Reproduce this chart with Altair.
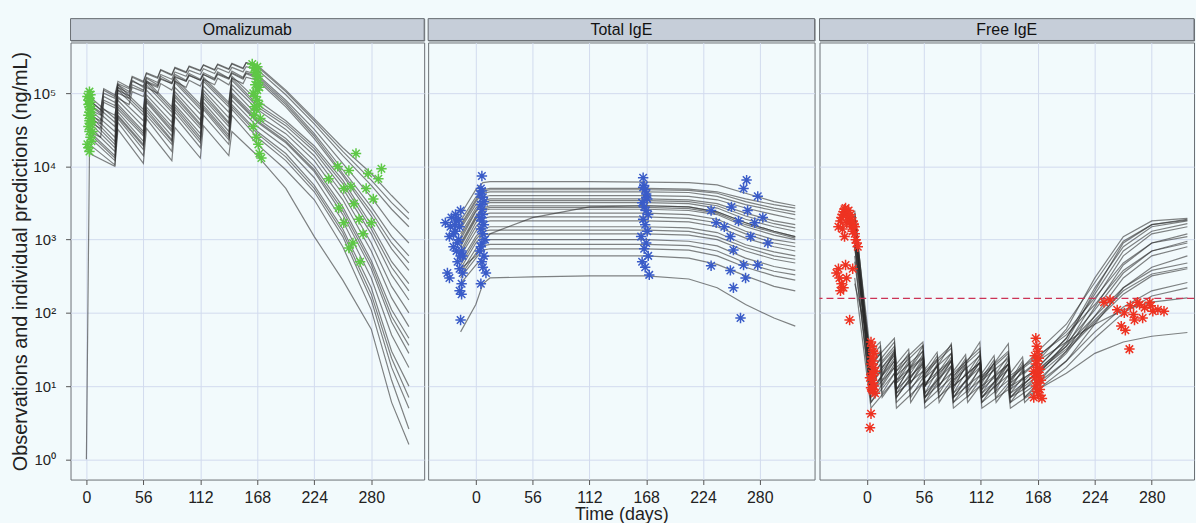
import altair as alt
import pandas as pd

TICKS_X = [0, 56, 112, 168, 224, 280]
TICKS_Y = [1, 10, 100, 1000, 10000, 100000]
PANELS = ["Omalizumab", "Total IgE", "Free IgE"]

# ---------------- Omalizumab: individual predictions (None = no prediction at that time) ----------------
omal_t_q2w = [0, 3, 14, 17, 28, 31, 42, 45, 56, 59, 70, 73, 84, 87, 98, 101, 112, 115,
              126, 129, 140, 143, 154, 157, 168, 196, 224, 252, 280, 300, 317]
omal_q2w = [
    [None, 6.0e4, 5.0e4, 1.0e5, 8.5e4, 1.35e5, 1.15e5, 1.65e5, 1.4e5, 1.85e5, 1.6e5, 2.05e5, 1.75e5, 2.2e5, 1.9e5, 2.3e5, 2.0e5, 2.4e5, 2.05e5, 2.45e5, 2.1e5, 2.5e5, 2.15e5, 2.6e5, 2.4e5, 1.1e5, 4.5e4, 1.8e4, 8e3, 4e3, 2.3e3],
    [None, 7.0e4, 5.5e4, 1.15e5, 9.5e4, 1.45e5, 1.2e5, 1.7e5, 1.45e5, 1.9e5, 1.65e5, 2.1e5, 1.8e5, 2.25e5, 1.95e5, 2.35e5, 2.05e5, 2.45e5, 2.1e5, 2.5e5, 2.15e5, 2.55e5, 2.2e5, 2.6e5, 2.3e5, 1.05e5, 4.2e4, 1.6e4, 6.5e3, 3.2e3, 1.9e3],
    [None, 5.0e4, 4.2e4, 9.0e4, 7.5e4, 1.2e5, 1.0e5, 1.45e5, 1.25e5, 1.65e5, 1.4e5, 1.8e5, 1.55e5, 1.95e5, 1.7e5, 2.05e5, 1.8e5, 2.15e5, 1.85e5, 2.2e5, 1.9e5, 2.25e5, 1.95e5, 2.3e5, 2.1e5, 9.5e4, 3.8e4, 1.4e4, 5.5e3, 2.6e3, 1.5e3],
    [None, 8.0e4, 6.0e4, 1.1e5, 9.0e4, 1.3e5, 1.05e5, 1.5e5, 1.2e5, 1.6e5, 1.3e5, 1.7e5, 1.4e5, 1.8e5, 1.5e5, 1.85e5, 1.55e5, 1.9e5, 1.6e5, 1.95e5, 1.6e5, 2.0e5, 1.65e5, 2.0e5, 1.8e5, 8e4, 3.2e4, 1.1e4, 3.8e3, 1.6e3, 900],
    [None, 4.0e4, 3.3e4, 7.5e4, 6.3e4, 1.0e5, 8.5e4, 1.2e5, 1.05e5, 1.4e5, 1.2e5, 1.55e5, 1.35e5, 1.65e5, 1.45e5, 1.75e5, 1.5e5, 1.8e5, 1.55e5, 1.85e5, 1.6e5, 1.9e5, 1.6e5, 1.9e5, 1.7e5, 7.5e4, 2.8e4, 9e3, 2.8e3, 1.1e3, 600],
    [None, 4.5e4, 3.8e4, 8.0e4, 6.8e4, 1.1e5, 9.2e4, 1.3e5, 1.1e5, 1.45e5, 1.25e5, 1.6e5, 1.35e5, 1.7e5, 1.45e5, 1.75e5, 1.5e5, 1.8e5, 1.5e5, 1.8e5, 1.55e5, 1.85e5, 1.55e5, 1.85e5, 1.6e5, 7e4, 2.6e4, 8e3, 2.4e3, 900, 480],
    [None, 3.0e4, 2.5e4, 6.0e4, 5.0e4, 8.5e4, 7.0e4, 1.05e5, 9.0e4, 1.2e5, 1.0e5, 1.35e5, 1.1e5, 1.45e5, 1.2e5, 1.5e5, 1.25e5, 1.55e5, 1.3e5, 1.6e5, 1.3e5, 1.6e5, 1.35e5, 1.65e5, 1.5e5, 6.5e4, 2.4e4, 7.5e3, 2.1e3, 750, 380],
]
omal_t_q4w = [0, 3, 28, 31, 56, 59, 84, 87, 112, 115, 140, 143, 168, 196, 224, 252, 280, 300, 317]
omal_q4w = [
    [None, 9e4, 4.5e4, 1.3e5, 6e4, 1.5e5, 6.5e4, 1.6e5, 7e4, 1.65e5, 7.5e4, 1.7e5, 8e4, 4.2e4, 1.9e4, 6.5e3, 1.6e3, 500, 250],
    [None, 8e4, 4e4, 1.2e5, 5.5e4, 1.4e5, 6e4, 1.5e5, 6.5e4, 1.55e5, 7e4, 1.6e5, 7e4, 3.9e4, 1.75e4, 5.8e3, 1.4e3, 420, 200],
    [None, 7e4, 3.5e4, 1.1e5, 5e4, 1.3e5, 5.5e4, 1.4e5, 6e4, 1.45e5, 6.5e4, 1.5e5, 6.5e4, 3.6e4, 1.6e4, 5e3, 1.2e3, 330, 150],
    [None, 6e4, 3e4, 9e4, 4.2e4, 1.1e5, 4.8e4, 1.2e5, 5.2e4, 1.25e5, 5.5e4, 1.3e5, 6e4, 3.2e4, 1.4e4, 4.2e3, 900, 230, 100],
    [None, 5.5e4, 2.5e4, 8e4, 3.5e4, 9.5e4, 4e4, 1.05e5, 4.3e4, 1.1e5, 4.6e4, 1.15e5, 5e4, 2.8e4, 1.2e4, 3.5e3, 700, 160, 65],
    [None, 5e4, 2.2e4, 7e4, 3e4, 8.5e4, 3.5e4, 9.5e4, 3.8e4, 1.0e5, 4e4, 1.0e5, 4.5e4, 2.4e4, 1.0e4, 2.8e3, 520, 110, 45],
    [None, 4.5e4, 2e4, 6.5e4, 2.8e4, 8e4, 3.2e4, 8.8e4, 3.6e4, 9.2e4, 3.8e4, 9.5e4, 4.2e4, 2.2e4, 9e3, 2.5e3, 460, 90, 36],
    [None, 4e4, 1.8e4, 6e4, 2.6e4, 7.5e4, 3e4, 8e4, 3.3e4, 8.5e4, 3.5e4, 9e4, 4e4, 2.1e4, 8.5e3, 2.2e3, 400, 75, 28],
    [None, 3.5e4, 1.6e4, 5.5e4, 2.2e4, 6.5e4, 2.6e4, 7e4, 2.8e4, 7.5e4, 3e4, 8e4, 3.5e4, 1.8e4, 7e3, 1.8e3, 300, 50, 18],
    [None, 3e4, 1.4e4, 5e4, 2e4, 6e4, 2.3e4, 6.5e4, 2.5e4, 6.8e4, 2.7e4, 7e4, 3e4, 1.5e4, 5.5e3, 1.4e3, 220, 30, 10],
    [None, 2.8e4, 1.3e4, 4.8e4, 1.9e4, 5.5e4, 2.2e4, 6e4, 2.3e4, 6.4e4, 2.5e4, 6.5e4, 2.8e4, 1.35e4, 5e3, 1.25e3, 180, 24, 7],
    [None, 2.5e4, 1.2e4, 4.5e4, 1.7e4, 5e4, 2e4, 5.5e4, 2.1e4, 6e4, 2.3e4, 6e4, 2.5e4, 1.2e4, 4.5e3, 1.1e3, 150, 18, 5],
    [None, 2e4, 1.05e4, 4e4, 1.4e4, 4.5e4, 1.6e4, 4.8e4, 1.8e4, 5e4, 2e4, 5e4, 2e4, 9e3, 3.5e3, 800, 110, 12, 2.6],
    [1, 1.5e4, 1.0e4, 3.2e4, 1.1e4, 3.3e4, 1.2e4, 3.4e4, 1.3e4, 3.6e4, 1.4e4, 3.0e4, 1.4e4, 5e3, 1.1e3, 280, 60, 6, 1.6],
]
# Omalizumab observations
omal_obs_day = [1, 2, 2, 3, 3, 3, 4, 4, 4, 5, 5, 2, 3, 4, 1, 2, 3, 5, 6, 3, 4, 2, 3, 4, 5,
                163, 165, 166, 167, 168, 169, 170, 164, 166, 168, 170, 167, 165, 169, 168, 166, 171, 164, 167, 169, 170, 172, 168, 165,
                247, 258, 265, 277, 287, 253, 263, 268, 253, 272, 280, 258, 269, 282, 248, 238, 290, 275, 262, 260]
omal_obs_val = [9e4, 8e4, 7e4, 1.05e5, 6.5e4, 5.5e4, 7.5e4, 6e4, 4.5e4, 5e4, 4e4, 3.5e4, 3e4, 2.5e4, 2e4, 1.8e4, 1.6e4, 2.2e4, 3e4, 8.5e4, 9.5e4, 5e4, 4.2e4, 3.8e4, 6e4,
                2.5e5, 2.2e5, 1.9e5, 2.0e5, 1.6e5, 1.4e5, 1.2e5, 1.0e5, 9e4, 8e4, 7e4, 6e4, 5e4, 1.7e5, 2.3e5, 1.3e5, 4.5e4, 3.5e4, 2.5e4, 2e4, 1.5e4, 1.3e4, 1.1e5, 6.5e4,
                1e4, 8.8e3, 1.5e4, 8e3, 6.8e3, 5e3, 3.1e3, 1.9e3, 1.7e3, 1.2e3, 1.7e3, 770, 500, 3.6e3, 2.7e3, 6.8e3, 9.3e3, 5e3, 900, 5.3e3]

# ---------------- Total IgE ----------------
tige_t = [-15, 0, 7, 14, 56, 112, 168, 210, 238, 266, 294, 315]
tige_curves = [
    [2200, 4800, 6000, 6200, 6200, 6200, 6100, 6000, 5600, 4300, 3300, 2900],
    [1800, 3800, 4800, 5000, 5000, 5000, 5000, 4900, 4500, 3600, 3000, 2700],
    [1600, 3500, 4600, 4800, 4800, 4800, 4800, 4700, 4300, 3300, 2700, 2400],
    [1500, 3300, 4300, 4500, 4500, 4500, 4500, 4400, 3900, 3000, 2500, 2200],
    [1400, 3000, 3800, 4000, 4000, 4000, 4000, 3900, 3500, 2700, 2200, 1900],
    [1200, 2700, 3400, 3600, 3600, 3600, 3600, 3500, 3100, 2300, 1800, 1600],
    [1100, 2500, 3200, 3400, 3400, 3400, 3400, 3300, 2900, 2100, 1650, 1450],
    [1000, 2400, 3000, 3200, 3200, 3200, 3200, 3100, 2700, 1900, 1500, 1300],
    [900, 2100, 2700, 2900, 2900, 2900, 2900, 2800, 2400, 1700, 1300, 1100],
    [850, 2000, 2600, 2750, 2750, 2750, 2750, 2650, 2300, 1600, 1250, 1050],
    [800, 1900, 2500, 2600, 2600, 2600, 2600, 2500, 2200, 1500, 1150, 1000],
    [700, 1700, 2200, 2300, 2300, 2300, 2300, 2200, 1900, 1300, 1000, 900],
    [650, 1500, 1950, 2050, 2050, 2050, 2050, 1950, 1700, 1200, 900, 800],
    [600, 1300, 1700, 1800, 1800, 1800, 1800, 1750, 1500, 1050, 800, 700],
    [500, 1100, 1400, 1500, 1500, 1500, 1500, 1450, 1250, 850, 680, 600],
    [450, 1000, 1300, 1350, 1350, 1350, 1350, 1300, 1100, 780, 600, 540],
    [400, 900, 1150, 1200, 1200, 1200, 1200, 1150, 1000, 700, 540, 480],
    [350, 750, 950, 1000, 1000, 1000, 1000, 950, 820, 560, 430, 380],
    [320, 650, 820, 860, 860, 860, 860, 830, 700, 480, 370, 330],
    [300, 560, 720, 750, 750, 750, 750, 720, 600, 420, 320, 280],
    [250, 450, 570, 600, 600, 600, 600, 560, 460, 320, 230, 200],
    [55, 130, 250, 300, 310, 320, 320, 290, 220, 130, 85, 66],
    [400, 600, 900, 1200, 2000, 2800, 2900, 2800, 2400, 1700, 1300, 1100],
]
tige_obs_day = [-30, -28, -26, -25, -24, -22, -20, -19, -18, -17, -16, -15, -14, -13, -22, -18, -16, -14, -20, -26, -17, -15, -13, -19, -21, -16, -14, -15,
                6, 5, 4, 7, 8, 5, 6, 7, 4, 6, 8, 5, 7, 9, 6, 5, 4, 8, 6, 7, 10, 5, 6,
                165, 166, 167, 168, 169, 164, 166, 168, 170, 165, 167, 169, 163, 168, 166, 170, 164, 167, 171, 168, 165,
                267, 264, 232, 237, 252, 259, 268, 275, 251, 254, 271, 278, 288, 251, 254, 266, 261, 264, 278, 232, 245, 283]
tige_obs_val = [1700, 350, 300, 1500, 2000, 1200, 2200, 1800, 900, 1000, 1500, 2500, 700, 600, 800, 500, 400, 250, 1300, 1100, 1900, 600, 350, 700, 1600, 200, 180, 80,
                7400, 5000, 4200, 3800, 3300, 3000, 2600, 2200, 2000, 1800, 1600, 1400, 1200, 1000, 900, 800, 700, 600, 500, 420, 350, 250, 4600,
                7000, 5500, 4800, 4200, 3600, 3200, 2800, 2500, 2200, 1900, 1600, 1300, 1100, 900, 750, 600, 500, 420, 330, 3800, 5200,
                6500, 5000, 2500, 1700, 2800, 1800, 2500, 1700, 1100, 720, 1100, 3900, 900, 380, 220, 300, 85, 450, 450, 440, 1500, 2000]

# ---------------- Free IgE ----------------
fige_t_a = [-12, 4, 27, 29, 55, 57, 83, 85, 111, 113, 139, 141, 168, 196, 224, 252, 280, 315]
fige_a = [
    [2500, 14, 32, 14, 30, 13, 28, 12, 26, 12, 24, 11, 22, 60, 300, 1100, 1800, 1950],
    [2100, 11, 26, 11, 24, 10, 22, 10, 21, 9, 20, 9, 18, 45, 220, 800, 1500, 1800],
    [1700, 7, 30, 9, 35, 10, 38, 11, 40, 12, 38, 12, 30, 70, 260, 950, 1600, 1850],
    [1800, 9, 22, 9, 20, 8, 19, 8, 18, 8, 17, 8, 15, 35, 150, 600, 1200, 1500],
    [1500, 16, 40, 16, 36, 15, 33, 14, 30, 13, 28, 13, 25, 55, 160, 480, 900, 1100],
    [1200, 8, 18, 8, 16, 7, 15, 7, 14, 7, 14, 7, 12, 28, 90, 300, 600, 800],
    [1100, 20, 45, 18, 40, 16, 36, 15, 33, 14, 30, 14, 26, 50, 130, 380, 700, 900],
    [900, 12, 28, 12, 25, 11, 23, 10, 21, 10, 20, 10, 17, 35, 90, 220, 380, 480],
    [800, 6, 20, 7, 22, 7, 22, 7, 21, 7, 20, 7, 16, 32, 80, 200, 340, 420],
    [600, 6, 15, 6, 14, 6, 13, 6, 12, 6, 12, 6, 11, 22, 55, 120, 200, 260],
    [300, 5, 12, 5, 11, 5, 10, 5, 10, 5, 9, 5, 9, 15, 28, 40, 48, 54],
]
fige_t_b = [-12, 4, 13, 15, 27, 29, 41, 43, 55, 57, 69, 71, 83, 85, 97, 99, 111, 113, 125, 127,
            139, 141, 153, 155, 168, 196, 224, 252, 280, 315]
fige_b = [
    [2300, 18, 28, 14, 24, 12, 22, 11, 21, 10, 20, 10, 19, 9, 19, 9, 18, 9, 18, 9, 18, 9, 17, 9, 14, 40, 200, 900, 1600, 1900],
    [2000, 25, 35, 18, 30, 16, 28, 15, 27, 14, 26, 14, 25, 13, 24, 13, 24, 13, 23, 12, 23, 12, 22, 12, 18, 45, 180, 700, 1300, 1650],
    [1600, 12, 20, 10, 18, 9, 17, 9, 16, 8, 16, 8, 15, 8, 15, 8, 14, 8, 14, 8, 14, 8, 13, 7, 11, 30, 120, 450, 900, 1200],
    [1300, 20, 30, 15, 27, 14, 25, 13, 24, 13, 23, 12, 22, 12, 22, 12, 21, 11, 21, 11, 20, 11, 20, 11, 16, 38, 110, 350, 700, 950],
    [1000, 10, 16, 8, 15, 8, 14, 7, 13, 7, 13, 7, 12, 7, 12, 7, 12, 7, 11, 7, 11, 7, 11, 7, 10, 22, 70, 220, 420, 600],
    [800, 15, 24, 12, 22, 11, 20, 11, 19, 10, 19, 10, 18, 10, 18, 10, 17, 10, 17, 10, 17, 10, 16, 10, 14, 30, 75, 180, 320, 400],
    [500, 8, 13, 7, 12, 7, 12, 6, 11, 6, 11, 6, 11, 6, 10, 6, 10, 6, 10, 6, 10, 6, 10, 6, 9, 18, 45, 100, 170, 220],
    [250, 30, 40, 22, 35, 20, 32, 18, 30, 17, 29, 16, 28, 16, 27, 15, 27, 15, 26, 15, 26, 15, 25, 15, 22, 40, 70, 110, 140, 160],
]
fige_obs_day = [-28, -26, -25, -24, -23, -22, -21, -20, -19, -18, -17, -16, -15, -14, -13, -12, -11, -10, -9,
                -24, -22, -20, -18, -16, -14, -12, -30, -28, -27, -25, -23, -20, -17, -14, -26, -21,
                4, 5, 6, 7, 5, 6, 4, 7, 8, 5, 6, 3, 5, 6, 7, 4, 5, 6, 8, 4, 3,
                166, 167, 168, 165, 169, 167, 166, 168, 170, 164, 167, 169, 165, 171, 168, 166, 170, 167, 169, 164, 172,
                233, 246, 253, 259, 266, 273, 279, 286, 292, 250, 254, 263, 271, 258, 239, 281, 278, 262, 268]
fige_obs_val = [1500, 1800, 2000, 2200, 2400, 2600, 2700, 2300, 2000, 2100, 1700, 1900, 1500, 1300, 1600, 1200, 1000, 900, 800,
                1400, 1100, 1700, 2500, 2200, 1800, 1500, 350, 400, 300, 250, 220, 300, 80, 400, 200, 450,
                40, 35, 30, 28, 25, 22, 20, 18, 16, 15, 14, 13, 12, 11, 10, 9.5, 9, 8.5, 8, 4.2, 2.7,
                45, 35, 30, 26, 24, 22, 20, 18, 17, 16, 15, 14, 13, 12, 11, 10, 9, 8.5, 7.5, 7, 6.8,
                140, 110, 100, 125, 140, 118, 125, 110, 105, 66, 58, 80, 85, 32, 150, 105, 140, 95, 130]
fige_threshold = [158]

# ---------------- styling ----------------
BG = "#F2FAFC"
LINE = "#2A2A2A"
STRIP_FILL = "#C6CED9"
BORDER = "#6B7075"
GRID = "#D2DBEE"
FONT = "Liberation Sans"
ASTERISK = "M-1,0L1,0M0,-1L0,1M-0.72,-0.72L0.72,0.72M-0.72,0.72L0.72,-0.72"
Y_DOMAIN = [0.53, 492000]
PLOT_H = 440


def lines_frame(groups):
    rows = []
    for times, curves, prefix in groups:
        for i, vals in enumerate(curves):
            for t, v in zip(times, vals):
                if v is not None:
                    rows.append({"id": f"{prefix}{i}", "day": t, "value": v})
    return pd.DataFrame(rows)


def strip(label, width):
    base = alt.Chart(pd.DataFrame({"label": [label]}))
    rect = base.mark_rect(fill=STRIP_FILL, stroke=BORDER, strokeWidth=1).encode(
        x=alt.value(0), x2=alt.value(width), y=alt.value(0), y2=alt.value(22))
    txt = base.mark_text(font=FONT, fontSize=16, color="#111111", baseline="middle", align="center").encode(
        text="label:N", x=alt.value(width / 2), y=alt.value(11.5))
    return alt.layer(rect, txt).properties(width=width, height=22)


def panel(label, ldf, odf, color, xdom, width, first, xtitle, rule_vals=None):
    xenc = alt.X("day:Q", scale=alt.Scale(domain=xdom, nice=False, zero=False),
                 axis=alt.Axis(values=TICKS_X, title="Time (days)" if xtitle else None,
                               grid=True, domain=False, format="d"))
    if first:
        yaxis = alt.Axis(values=TICKS_Y, title="Observations and individual predictions (ng/mL)",
                         grid=True, domain=False,
                         labelExpr="'10' + ['\u2070','\u00b9','\u00b2','\u00b3','\u2074','\u2075'][round(log(datum.value)/LN10)]")
    else:
        yaxis = alt.Axis(values=TICKS_Y, title=None, labels=False, ticks=False, domain=False,
                         grid=True, minExtent=0, maxExtent=0)
    yenc = alt.Y("value:Q", scale=alt.Scale(type="log", domain=Y_DOMAIN, nice=False), axis=yaxis)
    lines = alt.Chart(ldf).mark_line(color=LINE, opacity=0.58, strokeWidth=1.2, clip=True).encode(
        x=xenc, y=yenc, detail="id:N")
    layers = [lines]
    if rule_vals is not None:
        rule = alt.Chart(pd.DataFrame({"value": rule_vals})).mark_rule(
            color="#CC3355", strokeDash=[7, 4], strokeWidth=1.3).encode(y="value:Q")
        layers.append(rule)
    pts = alt.Chart(odf).mark_point(shape=ASTERISK, size=110, filled=False, color=color,
                                    strokeWidth=1.5, opacity=1, clip=True).encode(x="day:Q", y="value:Q")
    layers.append(pts)
    plot = alt.layer(*layers).properties(width=width, height=PLOT_H)
    return alt.vconcat(strip(label, width), plot, spacing=0)


omal_lines = lines_frame([(omal_t_q2w, omal_q2w, "a"), (omal_t_q4w, omal_q4w, "b")])
tige_lines = lines_frame([(tige_t, tige_curves, "t")])
fige_lines = lines_frame([(fige_t_a, fige_a, "fa"), (fige_t_b, fige_b, "fb")])

p1 = panel(PANELS[0], omal_lines, pd.DataFrame({"day": omal_obs_day, "value": omal_obs_val}),
           "#5EC846", [-15.6, 332], 356, True, False)
p2 = panel(PANELS[1], tige_lines, pd.DataFrame({"day": tige_obs_day, "value": tige_obs_val}),
           "#3A5CC8", [-47, 334], 389, False, True)
p3 = panel(PANELS[2], fige_lines, pd.DataFrame({"day": fige_obs_day, "value": fige_obs_val}),
           "#EE3322", [-46.6, 321.5], 377, False, False, rule_vals=fige_threshold)

chart = alt.hconcat(p1, p2, p3, spacing=2).properties(
    padding={"left": 10, "top": 16, "right": 0, "bottom": 0},
    background=BG,
).configure_view(
    fill=BG, stroke=BORDER, strokeWidth=1
).configure_axis(
    labelFont=FONT, titleFont=FONT, labelColor="#222222", titleColor="#222222",
    titleFontWeight="normal", gridColor=GRID, gridWidth=1, tickColor="#555555", tickSize=5,
).configure_axisX(
    labelFontSize=16, labelPadding=5, titleFontSize=18, titlePadding=0,
).configure_axisY(
    labelFontSize=15, labelPadding=10, titleFontSize=20, titlePadding=2,
)

chart.save("out.html", embed_options={"renderer": "svg", "actions": False})
